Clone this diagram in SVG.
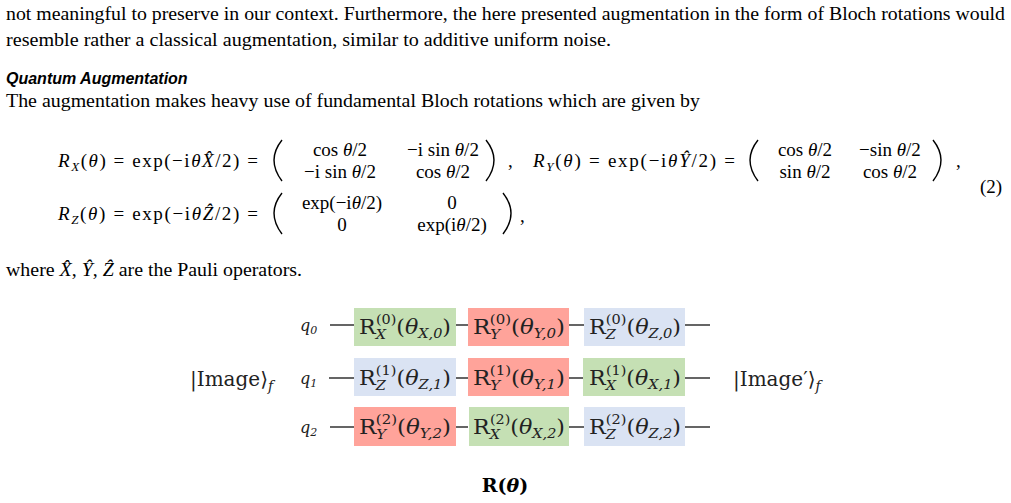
<svg xmlns="http://www.w3.org/2000/svg" width="1011" height="503" viewBox="0 0 1011 503">
<style>
.t{font-family:"Liberation Serif",serif;font-size:19px;fill:#000}
.m{font-family:"Liberation Serif",serif;font-size:19px;fill:#000}
.i{font-style:italic}
.s{font-size:13px}
.par{fill:none;stroke:#000;stroke-width:1.4}
.g{font-family:"DejaVu Serif",serif;font-size:20px;fill:#222}
.sb{font-size:13px}
.w{stroke:#333;stroke-width:1.3}
.gr{fill:#c5e0b4}.rd{fill:#ffa39a}.bl{fill:#dae3f3}
</style>
<rect width="1011" height="503" fill="#fff"/>
<text class="t" x="6" y="20" textLength="999" lengthAdjust="spacingAndGlyphs">not meaningful to preserve in our context. Furthermore, the here presented augmentation in the form of Bloch rotations would</text>
<text class="t" x="6" y="46" textLength="605" lengthAdjust="spacingAndGlyphs">resemble rather a classical augmentation, similar to additive uniform noise.</text>
<text x="6" y="84" style="font-family:'Liberation Sans',sans-serif;font-size:16px;font-weight:bold;font-style:italic">Quantum Augmentation</text>
<text class="t" x="6" y="107" textLength="694" lengthAdjust="spacingAndGlyphs">The augmentation makes heavy use of fundamental Bloch rotations which are given by</text>
<!-- equations -->
<text class="m" x="58" y="167" textLength="200" lengthAdjust="spacing"><tspan class="i">R</tspan><tspan class="i s" dy="4">X</tspan><tspan dy="-4">(</tspan><tspan class="i">θ</tspan>) = exp(−i<tspan class="i">θX̂</tspan>/2) =</text>
<path class="par" d="M282 140Q266 160 282 181"/>
<text class="m" x="340" y="156" text-anchor="middle">cos <tspan class="i">θ</tspan>/2</text>
<text class="m" x="443" y="156" text-anchor="middle">−i sin <tspan class="i">θ</tspan>/2</text>
<text class="m" x="340" y="178" text-anchor="middle">−i sin <tspan class="i">θ</tspan>/2</text>
<text class="m" x="443" y="178" text-anchor="middle">cos <tspan class="i">θ</tspan>/2</text>
<path class="par" d="M486 140Q502 160 486 181"/>
<text class="m" x="508" y="167">,</text>
<text class="m" x="533" y="167" textLength="202" lengthAdjust="spacing"><tspan class="i">R</tspan><tspan class="i s" dy="4">Y</tspan><tspan dy="-4">(</tspan><tspan class="i">θ</tspan>) = exp(−i<tspan class="i">θŶ</tspan>/2) =</text>
<path class="par" d="M758 140Q742 160 758 181"/>
<text class="m" x="805" y="156" text-anchor="middle">cos <tspan class="i">θ</tspan>/2</text>
<text class="m" x="890" y="156" text-anchor="middle">−sin <tspan class="i">θ</tspan>/2</text>
<text class="m" x="805" y="178" text-anchor="middle">sin <tspan class="i">θ</tspan>/2</text>
<text class="m" x="890" y="178" text-anchor="middle">cos <tspan class="i">θ</tspan>/2</text>
<path class="par" d="M933 140Q949 160 933 181"/>
<text class="m" x="956" y="167">,</text>
<text class="m" x="980" y="193">(2)</text>
<text class="m" x="58" y="220" textLength="200" lengthAdjust="spacing"><tspan class="i">R</tspan><tspan class="i s" dy="4">Z</tspan><tspan dy="-4">(</tspan><tspan class="i">θ</tspan>) = exp(−i<tspan class="i">θẐ</tspan>/2) =</text>
<path class="par" d="M282 193Q266 213 282 234"/>
<text class="m" x="342" y="209" text-anchor="middle">exp(−i<tspan class="i">θ</tspan>/2)</text>
<text class="m" x="452" y="209" text-anchor="middle">0</text>
<text class="m" x="342" y="231" text-anchor="middle">0</text>
<text class="m" x="452" y="231" text-anchor="middle">exp(i<tspan class="i">θ</tspan>/2)</text>
<path class="par" d="M503 193Q519 213 503 234"/>
<text class="m" x="520" y="222">,</text>
<text class="t" x="6" y="276" textLength="296" lengthAdjust="spacingAndGlyphs">where <tspan class="i">X̂</tspan>, <tspan class="i">Ŷ</tspan>, <tspan class="i">Ẑ</tspan> are the Pauli operators.</text>
<!-- circuit -->
<g id="wires">
<path class="w" d="M330 325H354M456 325H468M569 325H584M685 325H710M329 378H354M456 378H468M569 378H584M685 378H710M330 427H354M456 427H468M569 427H584M685 427H710"/>
</g>
<g id="labels">
<text class="g i" x="300" y="331" style="font-size:16px">q<tspan dy="3" style="font-size:11px">0</tspan></text>
<text class="g i" x="300" y="384" style="font-size:16px">q<tspan dy="3" style="font-size:11px">1</tspan></text>
<text class="g i" x="300" y="433" style="font-size:16px">q<tspan dy="3" style="font-size:11px">2</tspan></text>
<text class="g" x="190" y="386">|Image⟩<tspan dy="5" class="i" style="font-size:14px">f</tspan></text>
<text class="g" x="733" y="386">|Image′⟩<tspan dy="5" class="i" style="font-size:14px">f</tspan></text>
<text x="505" y="492" text-anchor="middle" style="font-family:'DejaVu Serif',serif;font-size:19px;font-weight:bold">R(<tspan font-style="italic">θ</tspan>)</text>
</g>
<g id="g00"><rect class="gr" x="354" y="308" width="102" height="38"/><text class="g" x="359" y="334" textLength="92" lengthAdjust="spacingAndGlyphs">R<tspan class="i sb" dy="5">X</tspan><tspan class="sb" dx="-9" dy="-15">(0)</tspan><tspan dy="10">(</tspan><tspan class="i">θ</tspan><tspan class="i sb" dy="4">X,0</tspan><tspan dy="-4">)</tspan></text></g>
<g id="g01"><rect class="rd" x="468" y="308" width="101" height="38"/><text class="g" x="473" y="334" textLength="92" lengthAdjust="spacingAndGlyphs">R<tspan class="i sb" dy="5">Y</tspan><tspan class="sb" dx="-9" dy="-15">(0)</tspan><tspan dy="10">(</tspan><tspan class="i">θ</tspan><tspan class="i sb" dy="4">Y,0</tspan><tspan dy="-4">)</tspan></text></g>
<g id="g02"><rect class="bl" x="584" y="308" width="101" height="38"/><text class="g" x="589" y="334" textLength="92" lengthAdjust="spacingAndGlyphs">R<tspan class="i sb" dy="5">Z</tspan><tspan class="sb" dx="-9" dy="-15">(0)</tspan><tspan dy="10">(</tspan><tspan class="i">θ</tspan><tspan class="i sb" dy="4">Z,0</tspan><tspan dy="-4">)</tspan></text></g>
<g id="g10"><rect class="bl" x="354" y="358" width="102" height="38"/><text class="g" x="359" y="385" textLength="92" lengthAdjust="spacingAndGlyphs">R<tspan class="i sb" dy="5">Z</tspan><tspan class="sb" dx="-9" dy="-15">(1)</tspan><tspan dy="10">(</tspan><tspan class="i">θ</tspan><tspan class="i sb" dy="4">Z,1</tspan><tspan dy="-4">)</tspan></text></g>
<g id="g11"><rect class="rd" x="468" y="358" width="101" height="38"/><text class="g" x="473" y="385" textLength="92" lengthAdjust="spacingAndGlyphs">R<tspan class="i sb" dy="5">Y</tspan><tspan class="sb" dx="-9" dy="-15">(1)</tspan><tspan dy="10">(</tspan><tspan class="i">θ</tspan><tspan class="i sb" dy="4">Y,1</tspan><tspan dy="-4">)</tspan></text></g>
<g id="g12"><rect class="gr" x="583" y="358" width="102" height="38"/><text class="g" x="589" y="385" textLength="92" lengthAdjust="spacingAndGlyphs">R<tspan class="i sb" dy="5">X</tspan><tspan class="sb" dx="-9" dy="-15">(1)</tspan><tspan dy="10">(</tspan><tspan class="i">θ</tspan><tspan class="i sb" dy="4">X,1</tspan><tspan dy="-4">)</tspan></text></g>
<g id="g20"><rect class="rd" x="354" y="407" width="102" height="39"/><text class="g" x="359" y="434" textLength="92" lengthAdjust="spacingAndGlyphs">R<tspan class="i sb" dy="5">Y</tspan><tspan class="sb" dx="-9" dy="-15">(2)</tspan><tspan dy="10">(</tspan><tspan class="i">θ</tspan><tspan class="i sb" dy="4">Y,2</tspan><tspan dy="-4">)</tspan></text></g>
<g id="g21"><rect class="gr" x="469" y="407" width="100" height="39"/><text class="g" x="473" y="434" textLength="92" lengthAdjust="spacingAndGlyphs">R<tspan class="i sb" dy="5">X</tspan><tspan class="sb" dx="-9" dy="-15">(2)</tspan><tspan dy="10">(</tspan><tspan class="i">θ</tspan><tspan class="i sb" dy="4">X,2</tspan><tspan dy="-4">)</tspan></text></g>
<g id="g22"><rect class="bl" x="584" y="407" width="101" height="39"/><text class="g" x="589" y="434" textLength="92" lengthAdjust="spacingAndGlyphs">R<tspan class="i sb" dy="5">Z</tspan><tspan class="sb" dx="-9" dy="-15">(2)</tspan><tspan dy="10">(</tspan><tspan class="i">θ</tspan><tspan class="i sb" dy="4">Z,2</tspan><tspan dy="-4">)</tspan></text></g>
</svg>
